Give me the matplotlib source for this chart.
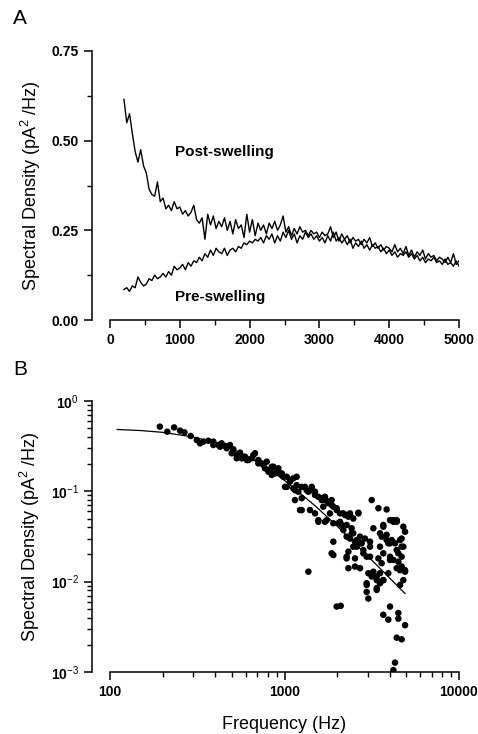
import numpy as np
import matplotlib
matplotlib.use("Agg")
import matplotlib.pyplot as plt
from matplotlib.ticker import MultipleLocator, LogLocator, NullFormatter

plt.rcParams['font.family'] = ['Liberation Sans', 'DejaVu Sans']
plt.rcParams['mathtext.fontset'] = 'custom'
plt.rcParams['mathtext.rm'] = 'Liberation Sans'
plt.rcParams['mathtext.bf'] = 'Liberation Sans:bold'

# ---------------- Panel A data (40 Hz grid from 200 Hz) ----------------
f_start_A = 200
f_step_A = 40
post_swelling = [
    0.615, 0.55, 0.575, 0.52, 0.47, 0.44, 0.475, 0.43, 0.41, 0.365,
    0.35, 0.345, 0.385, 0.33, 0.34, 0.31, 0.32, 0.305, 0.33, 0.31,
    0.315, 0.295, 0.305, 0.29, 0.30, 0.32, 0.28, 0.27, 0.285, 0.225,
    0.295, 0.265, 0.29, 0.255, 0.275, 0.26, 0.285, 0.25, 0.275, 0.24,
    0.28, 0.255, 0.265, 0.23, 0.295, 0.245, 0.28, 0.235, 0.27, 0.25,
    0.265, 0.24, 0.27, 0.255, 0.275, 0.25, 0.265, 0.29, 0.245, 0.26,
    0.235, 0.255, 0.24, 0.26, 0.245, 0.25, 0.235, 0.25, 0.24, 0.245,
    0.23, 0.245, 0.235, 0.24, 0.26, 0.23, 0.245, 0.22, 0.24, 0.225,
    0.235, 0.215, 0.23, 0.22, 0.225, 0.21, 0.225, 0.215, 0.23, 0.205,
    0.215, 0.20, 0.21, 0.195, 0.205, 0.20, 0.19, 0.21, 0.19, 0.20,
    0.185, 0.205, 0.18, 0.195, 0.175, 0.19, 0.18, 0.195, 0.17, 0.185,
    0.175, 0.18, 0.165, 0.175, 0.17, 0.16, 0.175, 0.16, 0.185, 0.155,
    0.165,
]
pre_swelling = [
    0.085, 0.09, 0.08, 0.095, 0.09, 0.12, 0.105, 0.095, 0.10, 0.115,
    0.11, 0.125, 0.115, 0.12, 0.13, 0.12, 0.135, 0.125, 0.15, 0.14,
    0.145, 0.155, 0.14, 0.16, 0.15, 0.165, 0.16, 0.175, 0.165, 0.185,
    0.175, 0.195, 0.18, 0.20, 0.19, 0.185, 0.20, 0.18, 0.195, 0.20,
    0.19, 0.205, 0.20, 0.215, 0.21, 0.22, 0.215, 0.225, 0.22, 0.23,
    0.215, 0.235, 0.225, 0.24, 0.215, 0.235, 0.22, 0.245, 0.23, 0.25,
    0.225, 0.24, 0.215, 0.235, 0.225, 0.245, 0.23, 0.24, 0.225, 0.235,
    0.22, 0.23, 0.215, 0.235, 0.22, 0.245, 0.22, 0.23, 0.215, 0.225,
    0.21, 0.225, 0.20, 0.215, 0.205, 0.22, 0.20, 0.21, 0.195, 0.21,
    0.20, 0.205, 0.19, 0.20, 0.185, 0.195, 0.18, 0.19, 0.175, 0.185,
    0.18, 0.19, 0.175, 0.185, 0.17, 0.18, 0.165, 0.175, 0.16, 0.17,
    0.165, 0.175, 0.16, 0.165, 0.155, 0.17, 0.155, 0.16, 0.15, 0.165,
    0.15,
]
freq_post = f_start_A + f_step_A * np.arange(len(post_swelling))
freq_pre = f_start_A + f_step_A * np.arange(len(pre_swelling))

# ---------------- Panel B data ----------------
scatter_f = [
    193, 213, 233, 252, 267, 290, 314, 328, 343, 366, 391, 418, 436, 456, 487,
    509, 532, 556, 594, 621, 649, 678, 708, 740, 773, 808, 845, 883, 922, 964,
    1007, 1030, 1076, 1123, 1174, 1148, 1200, 1255, 1227, 1310, 1370, 1432, 1370,
    1496, 1400, 1496, 1563, 1633, 1706, 1668, 1783, 1745, 1862, 1822, 1905, 1862,
    1905, 1991, 2080, 2033, 2127, 1991, 2100, 2223, 2324, 2373, 2270, 2174, 2270,
    2426, 2478, 2649, 2373, 2535, 2593, 2535, 2710, 2770, 2830, 2710, 2893, 2958,
    3092, 3160, 3229, 3023, 3092, 2958, 2958, 3023, 3160, 3377, 3377, 3452, 3848,
    3527, 3683, 3604, 3527, 3683, 3452, 3604, 3527, 3683, 3527, 3848, 3935, 4025,
    4025, 4207, 4395, 4115, 4297, 4395, 4207, 4491, 4395, 4691, 4797, 4908, 4691,
    4797, 4691, 4908, 4797, 4592, 4025, 3683, 3935, 4491, 4491, 4908, 4395, 4691,
    4297, 4207,
    4207, 4395, 3683, 3848, 4025, 4592, 4691, 4491, 4025, 4908, 4592, 3935, 3683,
    3377, 3229, 2958, 3377, 3092, 2830, 2710, 2593, 2478, 2324, 2270, 2426, 2535,
    2270, 2324,
    1030, 1076, 1123, 1174, 1255, 1339, 1432, 1496, 1563, 1633, 1706, 1783, 1862,
    1905, 1991, 2174, 2270, 2373, 2478, 2649, 2080, 1905, 1706, 1563, 1255, 1148,
    391, 427, 467, 498, 532, 569, 608, 663, 708, 757, 791, 827, 864, 922, 964,
    986, 903, 845,
]
scatter_S = [
    0.52, 0.457, 0.51, 0.47, 0.45, 0.41, 0.37, 0.34, 0.355, 0.363, 0.355, 0.326,
    0.34, 0.318, 0.326, 0.292, 0.252, 0.268, 0.242, 0.222, 0.232, 0.264, 0.222,
    0.204, 0.18, 0.165, 0.187, 0.158, 0.165, 0.152, 0.112, 0.145, 0.128, 0.139,
    0.145, 0.103, 0.099, 0.084, 0.062, 0.112, 0.099, 0.103, 0.0129, 0.091, 0.062,
    0.057, 0.048, 0.084, 0.080, 0.0676, 0.077, 0.048, 0.0706, 0.057, 0.0277,
    0.0206, 0.0197, 0.062, 0.057, 0.0443, 0.0424, 0.0053, 0.0054, 0.0547, 0.0524,
    0.057, 0.0424, 0.0373, 0.0189, 0.039, 0.0343, 0.058, 0.030, 0.0277, 0.0244,
    0.0147, 0.0315, 0.0266, 0.0224, 0.0141, 0.030, 0.0189, 0.0277, 0.080, 0.039,
    0.0124, 0.0244, 0.0096, 0.0077, 0.0065, 0.0114, 0.0114, 0.0081, 0.065, 0.063,
    0.0343, 0.0424, 0.0315, 0.0244, 0.0206, 0.0181, 0.016, 0.0124, 0.0104, 0.0096,
    0.033, 0.0266, 0.0189, 0.048, 0.048, 0.048, 0.0289, 0.0266, 0.0224, 0.0174,
    0.0166, 0.0141, 0.0147, 0.0406, 0.0357, 0.030, 0.0244, 0.0189, 0.0129, 0.0104,
    0.0092, 0.0053, 0.0043, 0.0038, 0.0045, 0.0039, 0.0033, 0.0024, 0.0023,
    0.00127, 0.00105,
    0.046, 0.046, 0.0406, 0.0289, 0.0266, 0.0289, 0.0244, 0.0206, 0.0174, 0.0134,
    0.0134, 0.0124, 0.0104, 0.0104, 0.0129, 0.0092, 0.0085, 0.0189, 0.0206, 0.0266,
    0.0289, 0.0244, 0.0215, 0.0315, 0.0343, 0.0181, 0.0181, 0.0141,
    0.112, 0.133, 0.108, 0.117, 0.112, 0.103, 0.112, 0.099, 0.087, 0.080, 0.087,
    0.074, 0.080, 0.0676, 0.065, 0.057, 0.0547, 0.0547, 0.050, 0.057, 0.046,
    0.0443, 0.046, 0.046, 0.062, 0.080,
    0.326, 0.312, 0.30, 0.264, 0.232, 0.232, 0.222, 0.252, 0.204, 0.196, 0.213,
    0.172, 0.187, 0.18, 0.158, 0.145, 0.165, 0.152,
]
fit_f = [110, 150, 200, 300, 400, 500, 600, 800, 1000, 1500, 2000, 3000, 4000, 4900]
fit_S = [0.484, 0.471, 0.45, 0.40, 0.346, 0.295, 0.25, 0.18, 0.132, 0.069,
         0.0413, 0.0192, 0.011, 0.0074]

# ---------------- Figure ----------------
W, H = 478, 734
fig = plt.figure(figsize=(W / 100, H / 100), dpi=100)

def px_axes(x0, y0, x1, y1):
    return fig.add_axes([x0 / W, 1 - y1 / H, (x1 - x0) / W, (y1 - y0) / H])

tick_fs = 10
label_fs = 13

def style(ax):
    ax.spines['top'].set_visible(False)
    ax.spines['right'].set_visible(False)
    ax.spines['left'].set_position(('outward', 13))
    for s in ('left', 'bottom'):
        ax.spines[s].set_linewidth(1.1)
    ax.tick_params(which='major', direction='out', length=6, width=1.1,
                   labelsize=tick_fs)
    ax.tick_params(which='minor', direction='out', length=3.5, width=1.0)
    for lab in ax.get_xticklabels() + ax.get_yticklabels():
        lab.set_fontweight('bold')

# Panel A
axA = px_axes(110, 51, 459, 320)
axA.plot(freq_post, post_swelling, color='black', lw=1.0)
axA.plot(freq_pre, pre_swelling, color='black', lw=1.0)
axA.set_xlim(0, 5000)
axA.set_ylim(0, 0.75)
axA.xaxis.set_major_locator(MultipleLocator(1000))
axA.xaxis.set_minor_locator(MultipleLocator(500))
axA.yaxis.set_major_locator(MultipleLocator(0.25))
axA.yaxis.set_minor_locator(MultipleLocator(0.125))
axA.yaxis.set_major_formatter(plt.FormatStrFormatter('%.2f'))
style(axA)
axA.set_ylabel('Spectral Density (pA$^2$ /Hz)', fontsize=label_fs, labelpad=6)
axA.text(930, 0.468, 'Post-swelling', fontsize=11, fontweight='bold',
         ha='left', va='center')
axA.text(930, 0.064, 'Pre-swelling', fontsize=11, fontweight='bold',
         ha='left', va='center')
fig.text(13 / W, 1 - 18 / H, 'A', fontsize=15, ha='left', va='center')

# Panel B
axB = px_axes(110, 401, 459, 672)
axB.set_xscale('log')
axB.set_yscale('log')
axB.scatter(scatter_f, scatter_S, s=22, color='black', edgecolors='none', zorder=3)
axB.plot(fit_f, fit_S, color='black', lw=0.9, zorder=2)
axB.set_xlim(100, 10000)
axB.set_ylim(1e-3, 1)
axB.xaxis.set_minor_locator(LogLocator(base=10, subs=np.arange(2, 10)))
axB.yaxis.set_minor_locator(LogLocator(base=10, subs=np.arange(2, 10)))
axB.xaxis.set_minor_formatter(NullFormatter())
axB.yaxis.set_minor_formatter(NullFormatter())
axB.set_xticks([100, 1000, 10000])
axB.set_xticklabels(['100', '1000', '10000'])
axB.set_yticks([1e-3, 1e-2, 1e-1, 1])
axB.set_yticklabels(['10$^{-3}$', '10$^{-2}$', '10$^{-1}$', '10$^{0}$'])
style(axB)
axB.set_ylabel('Spectral Density (pA$^2$ /Hz)', fontsize=label_fs, labelpad=6)
axB.set_xlabel('Frequency (Hz)', fontsize=label_fs, labelpad=12)
fig.text(13 / W, 1 - 369 / H, 'B', fontsize=15, ha='left', va='center')

fig.savefig('out.png', dpi=100)
